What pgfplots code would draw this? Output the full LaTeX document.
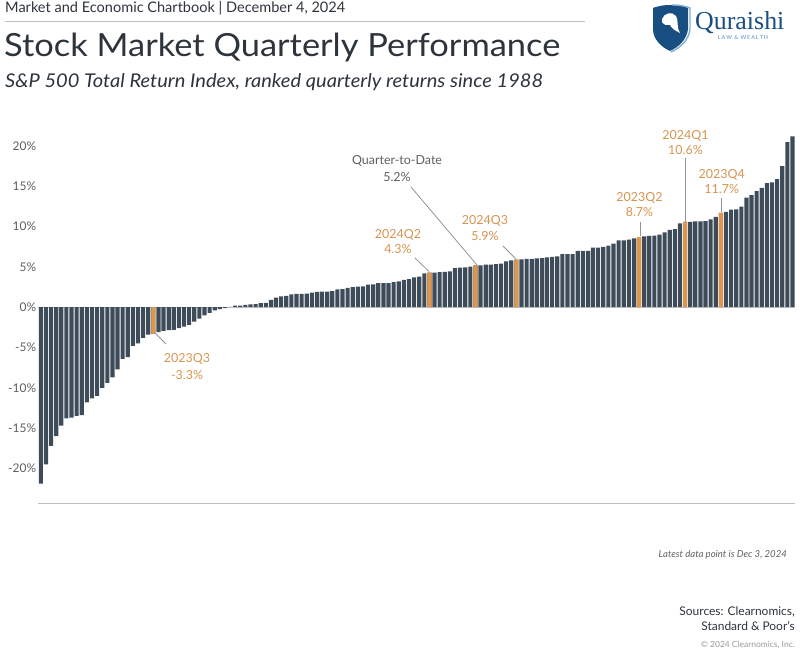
\documentclass[border=0pt]{standalone}
\usepackage{fontspec}
\setmainfont{Lato}
\newfontfamily\logofont{Liberation Serif}
\usepackage{pgfplots}
\usepackage{pgfplotstable}
\pgfplotsset{compat=1.18}
\definecolor{barc}{RGB}{62,76,90}
\definecolor{hl}{RGB}{222,150,75}
\definecolor{hltext}{RGB}{214,148,80}
\definecolor{txt}{RGB}{45,52,60}
\definecolor{gtxt}{RGB}{95,95,95}
\definecolor{leader}{RGB}{140,148,156}
\definecolor{logoblue}{RGB}{24,78,128}
\definecolor{logolight}{RGB}{125,172,212}

\pgfplotstableread{
k v
1 -21.9
2 -19.5
3 -17.2
4 -16.0
5 -14.7
6 -13.8
7 -13.7
8 -13.5
9 -13.4
10 -11.8
11 -11.3
12 -11.0
13 -10.0
14 -9.4
15 -8.7
16 -7.7
17 -6.4
18 -6.2
19 -4.8
20 -4.5
21 -3.8
22 -3.4
23 -3.3
24 -3.1
25 -2.95
26 -2.85
27 -2.8
28 -2.6
29 -2.4
30 -2.2
31 -1.8
32 -1.4
33 -1.0
34 -0.7
35 -0.4
36 -0.25
37 -0.1
38 0.05
39 0.2
40 0.2
41 0.3
42 0.35
43 0.4
44 0.5
45 0.55
46 0.9
47 1.2
48 1.35
49 1.4
50 1.6
51 1.65
52 1.65
53 1.7
54 1.8
55 1.9
56 1.95
57 1.95
58 2.0
59 2.2
60 2.25
61 2.4
62 2.5
63 2.55
64 2.6
65 2.8
66 2.85
67 3.0
68 3.0
69 3.0
70 3.1
71 3.2
72 3.4
73 3.5
74 3.7
75 3.8
76 4.2
77 4.3
78 4.3
79 4.35
80 4.4
81 4.45
82 4.85
83 4.9
84 4.95
85 5.05
86 5.2
87 5.2
88 5.3
89 5.3
90 5.35
91 5.4
92 5.7
93 5.8
94 5.9
95 5.95
96 6.0
97 6.0
98 6.05
99 6.1
100 6.2
101 6.25
102 6.3
103 6.6
104 6.6
105 6.6
106 7.0
107 7.0
108 7.0
109 7.4
110 7.4
111 7.5
112 7.65
113 7.9
114 8.3
115 8.3
116 8.4
117 8.55
118 8.7
119 8.8
120 8.85
121 8.9
122 9.0
123 9.3
124 9.6
125 9.7
126 10.4
127 10.6
128 10.6
129 10.65
130 10.65
131 10.7
132 10.9
133 11.2
134 11.7
135 11.85
136 12.1
137 12.15
138 12.5
139 13.6
140 13.9
141 14.4
142 14.8
143 15.4
144 15.5
145 15.9
146 17.5
147 20.5
148 21.2
}\ranked

\pgfplotstableread{
k v
23 -3.3
77 4.3
86 5.2
94 5.9
118 8.7
127 10.6
134 11.7
}\highlighted

\begin{document}
\begin{tikzpicture}[x=1bp,y=1bp]
\useasboundingbox (0,0) rectangle (800,659);
% header
\node[anchor=base west, inner sep=0pt, text=txt, font=\fontsize{14.6}{16}\selectfont] at (5,646) {Market and Economic Chartbook | December 4, 2024};
\draw[black!25, line width=0.9bp] (5,638) -- (585,638);
\node[anchor=base west, inner sep=0pt, text=txt, font=\fontsize{32}{36}\selectfont] at (4,602) {\scalebox{1.08}[1]{Stock Market Quarterly Performance}};
\node[anchor=base west, inner sep=0pt, text=txt, font=\fontsize{19}{22}\selectfont\itshape] at (5,571) {\scalebox{1.06}[1]{S\&P 500 Total Return Index, ranked quarterly returns since 1988}};
% logo
\fill[logoblue] (653,651) .. controls (663,655) and (678,655) .. (688,651) -- (688,630) .. controls (687,620) and (679,612) .. (670,608) .. controls (661,612) and (653,620) .. (653,630) -- cycle;
\draw[logolight, line width=1.4bp] (672,654) .. controls (679,654) and (685,653) .. (690,651) -- (690,630) .. controls (689,619) and (680,611) .. (671,607);
\fill[white] (662,640) .. controls (664,646) and (672,648) .. (676,643) .. controls (679,638) and (676,632) .. (680,626) .. controls (676,628) and (672,630) .. (670,634) .. controls (667,633) and (664,634) .. (662,637) -- cycle;
\node[anchor=base west, inner sep=0pt, text=logoblue, font=\logofont\fontsize{26}{28}\selectfont] at (695,629) {Quraishi};
\node[anchor=base, inner sep=0pt, text=logolight, font=\fontsize{5.5}{6}\selectfont\bfseries] at (743,619.5) {L\,A\,W \,\&\, W\,E\,A\,L\,T\,H};

\begin{axis}[
  at={(38.3bp,156bp)}, anchor=south west,
  width=756.7bp, height=373bp, scale only axis,
  xmin=0.5, xmax=148.5, ymin=-24.3, ymax=22,
  axis x line=bottom, axis y line=left,
  x axis line style={draw=black!25, line width=0.9bp, -},
  y axis line style={draw=none},
  xtick=\empty,
  ytick={-20,-15,-10,-5,0,5,10,15,20},
  yticklabels={-20\%,-15\%,-10\%,-5\%,0\%,5\%,10\%,15\%,20\%},
  major tick length=0pt,
  yticklabel style={font=\fontsize{12}{14}\selectfont, text=gtxt, inner sep=0pt, anchor=east, xshift=-2bp},
  clip=false,
]
\draw[black!22, line width=0.8bp] (axis cs:0.5,0) -- (axis cs:148.5,0);
\addplot[ybar, bar width=4.15bp, bar shift=0pt, fill=barc, draw=none] table[x=k,y=v]{\ranked};
\addplot[ybar, bar width=4.15bp, bar shift=0pt, fill=hl, draw=none] table[x=k,y=v]{\highlighted};
\end{axis}

% annotations (picture coordinates, y up)
\tikzset{ann/.style={anchor=base, inner sep=0pt, font=\fontsize{12.5}{14}\selectfont}}
\draw[leader, line width=0.8bp] (155,326) -- (166,315);
\node[ann, text=hltext] at (187,296) {2023Q3};
\node[ann, text=hltext] at (187,279.5) {-3.3\%};

\draw[leader, line width=0.8bp] (411,472) -- (477,394);
\node[ann, text=gtxt] at (397,494) {Quarter-to-Date};
\node[ann, text=gtxt] at (397,477) {5.2\%};

\draw[leader, line width=0.8bp] (415,401) -- (429,387.5);
\node[ann, text=hltext] at (398,420.7) {2024Q2};
\node[ann, text=hltext] at (398,405.7) {4.3\%};

\draw[leader, line width=0.8bp] (503,413) -- (516,400);
\node[ann, text=hltext] at (485,434) {2024Q3};
\node[ann, text=hltext] at (485,418.3) {5.9\%};

\draw[leader, line width=0.8bp] (640,437.3) -- (640,423);
\node[ann, text=hltext] at (639.5,457.3) {2023Q2};
\node[ann, text=hltext] at (639.5,442.3) {8.7\%};

\draw[leader, line width=0.8bp] (685.7,500.7) -- (685.7,437.3);
\node[ann, text=hltext] at (685.5,519) {2024Q1};
\node[ann, text=hltext] at (685.5,504) {10.6\%};

\draw[leader, line width=0.8bp] (721.7,460.7) -- (721.7,447.3);
\node[ann, text=hltext] at (721.7,480.7) {2023Q4};
\node[ann, text=hltext] at (721.7,465) {11.7\%};

% footer
\node[anchor=base east, inner sep=0pt, text=gtxt, font=\fontsize{9.6}{12}\selectfont\itshape] at (787,101) {Latest data point is Dec 3, 2024};
\node[anchor=base east, inner sep=0pt, text=txt, font=\fontsize{12}{14}\selectfont] at (795,43) {Sources: Clearnomics,};
\node[anchor=base east, inner sep=0pt, text=txt, font=\fontsize{12}{14}\selectfont] at (795,28) {Standard \& Poor's};
\node[anchor=base east, inner sep=0pt, text=black!40, font=\fontsize{8.5}{10}\selectfont] at (795,11) {\textcopyright{} 2024 Clearnomics, Inc.};
\end{tikzpicture}
\end{document}
